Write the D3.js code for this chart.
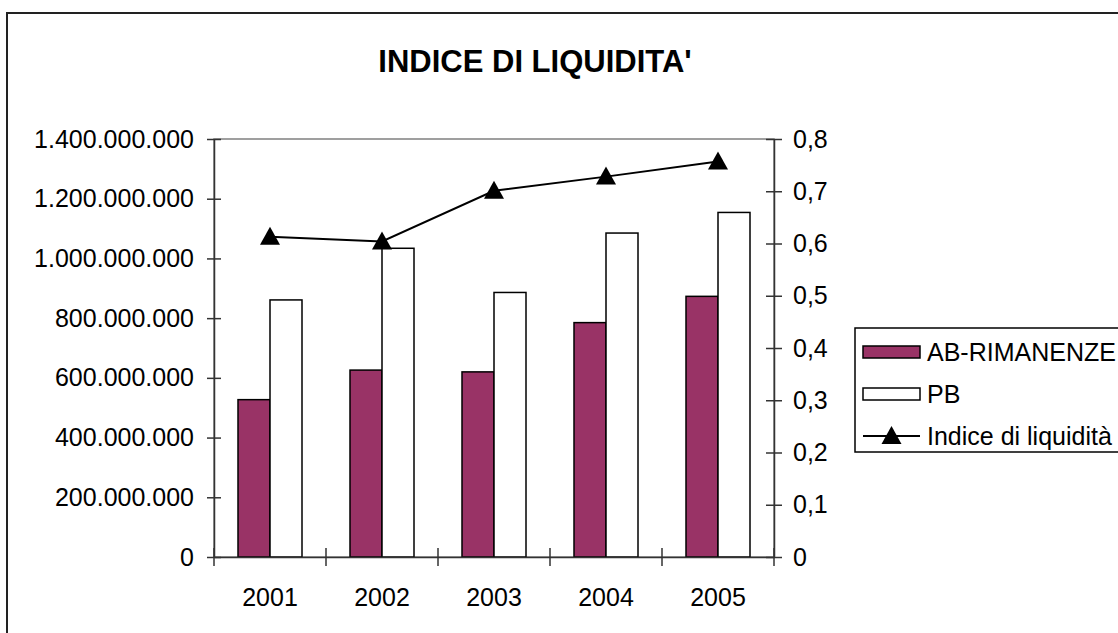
<!DOCTYPE html>
<html><head><meta charset="utf-8">
<script src="https://cdn.jsdelivr.net/npm/d3@7"></script>
<style>
html,body{margin:0;padding:0;background:#fff;}
svg{display:block;font-family:"Liberation Sans",Arial,sans-serif;}
</style></head>
<body>
<svg id="chart" width="1118" height="633"></svg>
<script>
const title = "INDICE DI LIQUIDITA'";
const categories = ["2001","2002","2003","2004","2005"];
const seriesNames = ["AB-RIMANENZE","PB","Indice di liquidità"];
const abRimanenze = [527000000, 626000000, 620000000, 785000000, 873000000];
const pb = [861000000, 1034000000, 886000000, 1085000000, 1154000000];
const indice = [0.613, 0.604, 0.701, 0.728, 0.757];
const leftTicks = [0,200000000,400000000,600000000,800000000,1000000000,1200000000,1400000000];
const rightTicks = [0,0.1,0.2,0.3,0.4,0.5,0.6,0.7,0.8];

const svg = d3.select("#chart");
const W = 1118, H = 633;
const plot = {left:214, right:774, top:139, bottom:557};
const fs = 25;

// outer chart border
svg.append("rect").attr("x",7).attr("y",13).attr("width",W+20).attr("height",H+20)
  .attr("fill","#fff").attr("stroke","#222").attr("stroke-width",2);

// title
svg.append("text").attr("x",535).attr("y",72).attr("text-anchor","middle")
  .attr("font-size",31).attr("font-weight","bold").attr("fill","#000").text(title);

const x = d3.scaleBand().domain(categories).range([plot.left, plot.right]).paddingInner(0).paddingOuter(0);
const yL = d3.scaleLinear().domain([0,1400000000]).range([plot.bottom, plot.top]);
const yR = d3.scaleLinear().domain([0,0.8]).range([plot.bottom, plot.top]);

// plot area border (gray)
svg.append("rect").attr("x",plot.left).attr("y",plot.top)
  .attr("width",plot.right-plot.left).attr("height",plot.bottom-plot.top)
  .attr("fill","none").attr("stroke","#808080").attr("stroke-width",1.5);

const groupW = x.bandwidth()*64/112;
const barW = groupW/2;
const off = (x.bandwidth()-groupW)/2;

// bars
svg.append("g").selectAll("rect").data(categories).join("rect")
  .attr("x",(d)=>x(d)+off).attr("y",(d,i)=>yL(abRimanenze[i]))
  .attr("width",barW).attr("height",(d,i)=>yL(0)-yL(abRimanenze[i]))
  .attr("fill","#993366").attr("stroke","#000").attr("stroke-width",1.5);
svg.append("g").selectAll("rect").data(categories).join("rect")
  .attr("x",(d)=>x(d)+off+barW).attr("y",(d,i)=>yL(pb[i]))
  .attr("width",barW).attr("height",(d,i)=>yL(0)-yL(pb[i]))
  .attr("fill","#fff").attr("stroke","#000").attr("stroke-width",1.5);

const fmtL = (v)=> d3.format(",")(v).replace(/,/g,".");
const fmtR = (v)=> (v===0? "0" : d3.format(".1f")(v).replace(".",","));

// left axis
const gL = svg.append("g").attr("transform",`translate(${plot.left},0)`)
  .call(d3.axisLeft(yL).tickValues(leftTicks).tickFormat(fmtL).tickSizeInner(7).tickSizeOuter(0).tickPadding(13));
gL.select(".domain").attr("stroke","#333").attr("stroke-width",1.5);
gL.selectAll(".tick line").attr("stroke","#333").attr("stroke-width",1.5).attr("x2",-7).attr("x1",7);
gL.selectAll(".tick text").attr("font-size",fs).attr("font-family","Liberation Sans, Arial, sans-serif").attr("fill","#000").attr("x",-20);

// right axis
const gR = svg.append("g").attr("transform",`translate(${plot.right},0)`)
  .call(d3.axisRight(yR).tickValues(rightTicks).tickFormat(fmtR).tickSizeInner(8).tickSizeOuter(0));
gR.select(".domain").attr("stroke","#333").attr("stroke-width",1.5);
gR.selectAll(".tick line").attr("stroke","#333").attr("stroke-width",1.5).attr("x1",-8).attr("x2",8);
gR.selectAll(".tick text").attr("font-size",fs).attr("font-family","Liberation Sans, Arial, sans-serif").attr("fill","#000").attr("x",19);

// bottom axis
const gB = svg.append("g").attr("transform",`translate(0,${plot.bottom})`)
  .call(d3.axisBottom(x).tickSize(0).tickPadding(0));
gB.select(".domain").attr("stroke","#333").attr("stroke-width",1.5);
gB.selectAll(".tick text").attr("font-size",fs).attr("font-family","Liberation Sans, Arial, sans-serif").attr("fill","#000").attr("y",31).attr("dy","0.71em");
// category boundary ticks
const bounds = categories.map(c=>x(c)).concat([plot.right]);
svg.append("g").selectAll("line").data(bounds).join("line")
  .attr("x1",d=>d).attr("x2",d=>d).attr("y1",plot.bottom-9).attr("y2",plot.bottom+9)
  .attr("stroke","#333").attr("stroke-width",1.5);

// line series
const line = d3.line().x((d,i)=>x(categories[i])+x.bandwidth()/2).y(d=>yR(d));
svg.append("path").datum(indice).attr("d",line).attr("fill","none").attr("stroke","#000").attr("stroke-width",2);
const tri = "M0,-10L10,8L-10,8Z";
svg.append("g").selectAll("path").data(indice).join("path")
  .attr("transform",(d,i)=>`translate(${x(categories[i])+x.bandwidth()/2},${yR(d)})`)
  .attr("d",tri).attr("fill","#000");

// legend
const lg = svg.append("g");
lg.append("rect").attr("x",855).attr("y",328).attr("width",300).attr("height",124)
  .attr("fill","#fff").attr("stroke","#000").attr("stroke-width",1.5);
const ly = [352,394,436];
lg.append("rect").attr("x",863).attr("y",ly[0]-6).attr("width",57).attr("height",12)
  .attr("fill","#993366").attr("stroke","#000").attr("stroke-width",1.5);
lg.append("rect").attr("x",863).attr("y",ly[1]-6).attr("width",57).attr("height",12)
  .attr("fill","#fff").attr("stroke","#000").attr("stroke-width",1.5);
lg.append("line").attr("x1",863).attr("x2",920).attr("y1",ly[2]).attr("y2",ly[2]).attr("stroke","#000").attr("stroke-width",2);
lg.append("path").attr("transform",`translate(891.5,${ly[2]})`).attr("d",tri).attr("fill","#000");
lg.selectAll("text.lt").data(seriesNames).join("text").attr("class","lt")
  .attr("x",927).attr("y",(d,i)=>ly[i]).attr("dy","0.36em").attr("font-size",fs).attr("fill","#000").text(d=>d);
</script>
</body></html>
